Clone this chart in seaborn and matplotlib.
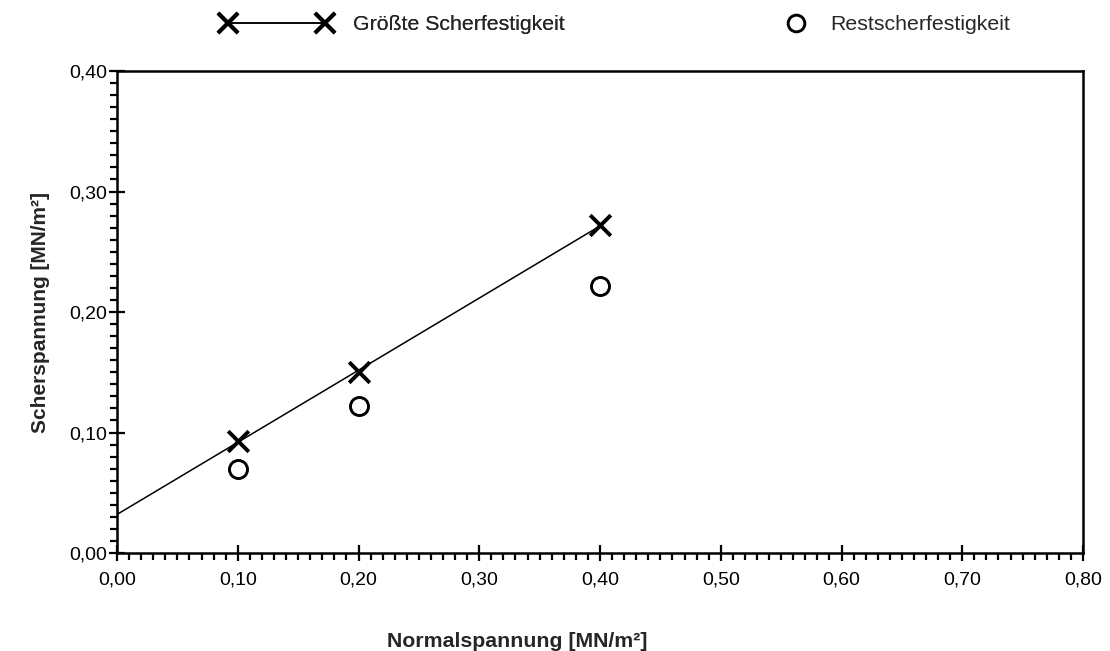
import numpy as np
import pandas as pd
import matplotlib
matplotlib.use("Agg")
import matplotlib.pyplot as plt
from matplotlib.lines import Line2D
from matplotlib.legend_handler import HandlerLine2D
from matplotlib.ticker import MultipleLocator, FuncFormatter
import seaborn as sns

# Normal stress [MN/m²] and measured shear strengths
normalspannung = [0.10, 0.20, 0.40]
groesste_scherfestigkeit = [0.093, 0.150, 0.272]
restscherfestigkeit = [0.070, 0.122, 0.222]

label_peak = "Größte Scherfestigkeit"
label_rest = "Restscherfestigkeit"

sns.set_theme(style="white")
plt.rcParams["font.family"] = ["Liberation Sans", "DejaVu Sans"]

df = pd.DataFrame({
    "sigma": normalspannung,
    "tau_peak": groesste_scherfestigkeit,
    "tau_rest": restscherfestigkeit,
})

# Mohr-Coulomb failure line through the peak strengths
slope, intercept = np.polyfit(df["sigma"], df["tau_peak"], 1)
fit = pd.DataFrame({"sigma": [0.0, max(normalspannung)]})
fit["tau"] = intercept + slope * fit["sigma"]

fig = plt.figure(figsize=(11.10, 6.51), dpi=100)
ax = fig.add_axes([0.1054, 0.1505, 0.8703, 0.7404])

sns.lineplot(data=fit, x="sigma", y="tau", ax=ax, color="black", lw=1.1)
sns.scatterplot(data=df, x="sigma", y="tau_peak", ax=ax, marker="x", s=220,
                color="black", linewidth=2.8, zorder=5)
ax.plot(df["sigma"], df["tau_rest"], linestyle="none", marker="o", ms=13,
        mfc="white", mec="black", mew=2.1, zorder=5)

ax.set_xlim(0, 0.8)
ax.set_ylim(0, 0.4)
ax.xaxis.set_major_locator(MultipleLocator(0.1))
ax.xaxis.set_minor_locator(MultipleLocator(0.01))
ax.yaxis.set_major_locator(MultipleLocator(0.1))
ax.yaxis.set_minor_locator(MultipleLocator(0.01))
fmt = FuncFormatter(lambda v, p: f"{v:.2f}".replace(".", ","))
ax.xaxis.set_major_formatter(fmt)
ax.yaxis.set_major_formatter(fmt)

ax.tick_params(which="major", direction="inout", length=12, width=1.6,
               colors="black", labelsize=14, bottom=True, left=True)
ax.tick_params(which="minor", direction="out", length=5, width=1.6,
               colors="black", bottom=True, left=True)
ax.tick_params(axis="x", which="major", pad=7)
ax.tick_params(axis="y", which="major", pad=1)

for sp in ax.spines.values():
    sp.set_color("black")
    sp.set_linewidth(1.8)

ax.set_xlabel("Normalspannung [MN/m²]", fontsize=15.3, fontweight="bold")
ax.xaxis.set_label_coords(0.414, -0.164)
ax.set_ylabel("Scherspannung [MN/m²]", fontsize=15, fontweight="bold",
              labelpad=14)

h_peak = Line2D([], [], color="black", lw=1.1, marker="x", ms=14, mew=2.8)
h_rest = Line2D([], [], linestyle="none", marker="o", ms=12, mfc="white",
                mec="black", mew=2.1)

leg_peak = fig.legend([h_peak], [label_peak], loc="center left",
                      bbox_to_anchor=(0.182, 0.962), frameon=False,
                      fontsize=15.3, handlelength=5.2, handletextpad=1.0,
                      handler_map={h_peak: HandlerLine2D(numpoints=2)})
leg_rest = fig.legend([h_rest], [label_rest], loc="center left",
                      bbox_to_anchor=(0.688, 0.962), frameon=False,
                      fontsize=15.3, handlelength=1.2, handletextpad=1.05,
                      handler_map={h_rest: HandlerLine2D(numpoints=1)})
fig.add_artist(leg_peak)

fig.savefig("out.png", dpi=100, facecolor="white")
